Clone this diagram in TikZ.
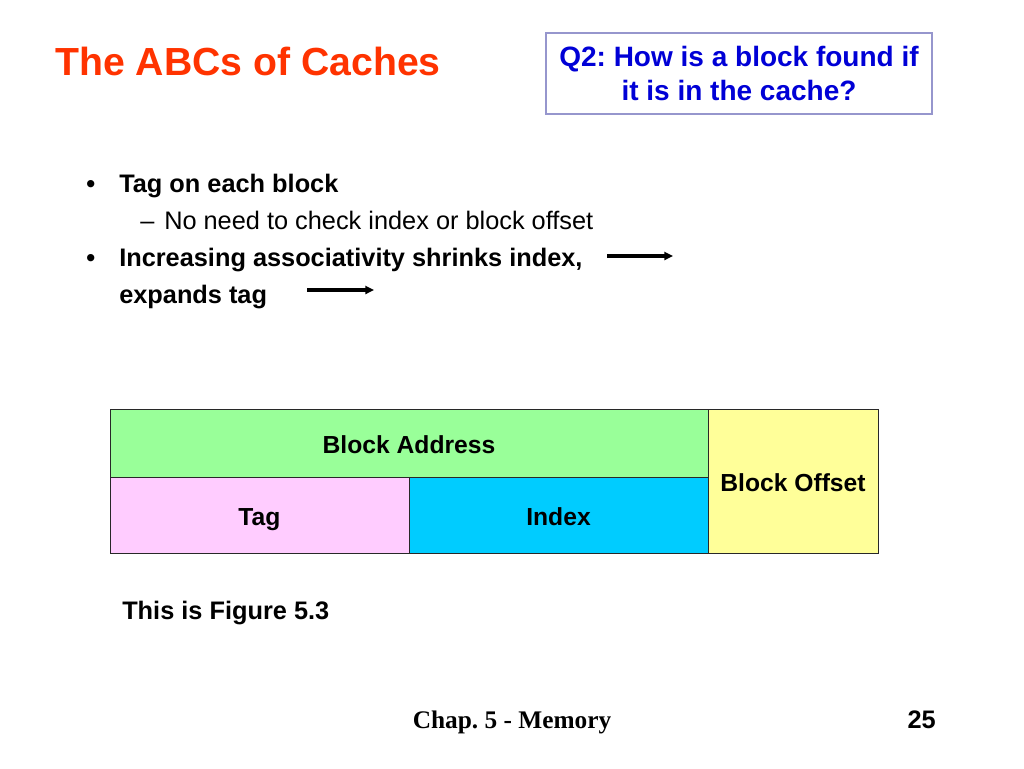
\documentclass[tikz,border=0pt]{standalone}
\usepackage{fontspec}
\setmainfont{Liberation Sans}
\newfontfamily\timesfont{Liberation Serif}
\usepackage{tikz}
\usetikzlibrary{arrows.meta,positioning}
\usepackage{xcolor}
\definecolor{titlered}{RGB}{255,51,0}
\definecolor{qblue}{RGB}{0,0,214}
\definecolor{qframe}{RGB}{150,150,205}
\definecolor{addrgreen}{RGB}{153,255,153}
\definecolor{tagpink}{RGB}{255,204,255}
\definecolor{indexcyan}{RGB}{0,204,255}
\definecolor{offsetyellow}{RGB}{255,255,153}
\definecolor{cellline}{RGB}{40,40,40}
\tikzstyle{bodytext} = [anchor=base west, inner sep=0pt, font=\fontsize{19}{23}\selectfont\bfseries]
\tikzstyle{subtext} = [anchor=base west, inner sep=0pt, font=\fontsize{19}{23}\selectfont]
\tikzstyle{field} = [rectangle, draw=cellline, line width=0.75pt, inner sep=0pt, outer sep=0pt, text centered, text height=15.4pt, text depth=0pt, font=\fontsize{18.5}{22}\selectfont\bfseries]
\tikzstyle{arrow} = [line width=2.4pt, -{Triangle[length=6.5pt,width=6pt]}]

\begin{document}
\frenchspacing
\begin{tikzpicture}[x=0.75pt,y=-0.75pt]
\useasboundingbox (0,0) rectangle (1024,768);

% Title and question box
\node[anchor=base west, inner sep=0pt, text=titlered, font=\fontsize{29.4}{34}\selectfont\bfseries] (title) at (55,75) {The ABCs of Caches};
\node[rectangle, draw=qframe, line width=0.9pt, minimum width=289.5pt, minimum height=60.75pt, align=center, text=qblue, font=\fontsize{21}{25.5}\selectfont\bfseries] (question) at (739,73.5) {Q2: How is a block found if\\it is in the cache?};

% Bullets
\node[bodytext] (dot1) at (86,192) {\textbullet};
\node[bodytext] (tagline) at (119,192) {Tag on each block};
\node[subtext] (dash) at (140,229) {--};
\node[subtext] (noneed) at (164,229) {No need to check index or block offset};
\node[bodytext] (dot2) at (86,266) {\textbullet};
\node[bodytext] (assoc) at (119,266) {Increasing associativity shrinks index,};
\node[bodytext] (expands) at (119,303) {expands tag};

% Arrows
\coordinate (a1s) at (607,256);
\coordinate (a1e) at (673,256);
\coordinate (a2s) at (307,290);
\coordinate (a2e) at (374,290);
\draw[arrow] (a1s) -- (a1e);
\draw[arrow] (a2s) -- (a2e);

% Address fields
\node[field, fill=addrgreen, minimum width=448.5pt, minimum height=51pt] (addr) at (409,443) {Block Address};
\node[field, fill=tagpink, minimum width=224.25pt, minimum height=57pt] (tag) at (259.5,515) {Tag};
\node[field, fill=indexcyan, minimum width=224.25pt, minimum height=57pt] (index) at (558.5,515) {Index};
\node[field, fill=offsetyellow, minimum width=127.5pt, minimum height=108pt] (offset) at (793,481) {Block Offset};

% Caption and footer
\node[bodytext] (figure) at (122,619) {This is Figure 5.3};
\node[anchor=base, inner sep=0pt, font=\fontsize{19}{23}\selectfont\timesfont\bfseries] (chapter) at (512,728) {Chap. 5 - Memory};
\node[anchor=base east, inner sep=0pt, font=\fontsize{19}{23}\selectfont\bfseries] (page) at (936,728) {25};
\end{tikzpicture}
\end{document}
